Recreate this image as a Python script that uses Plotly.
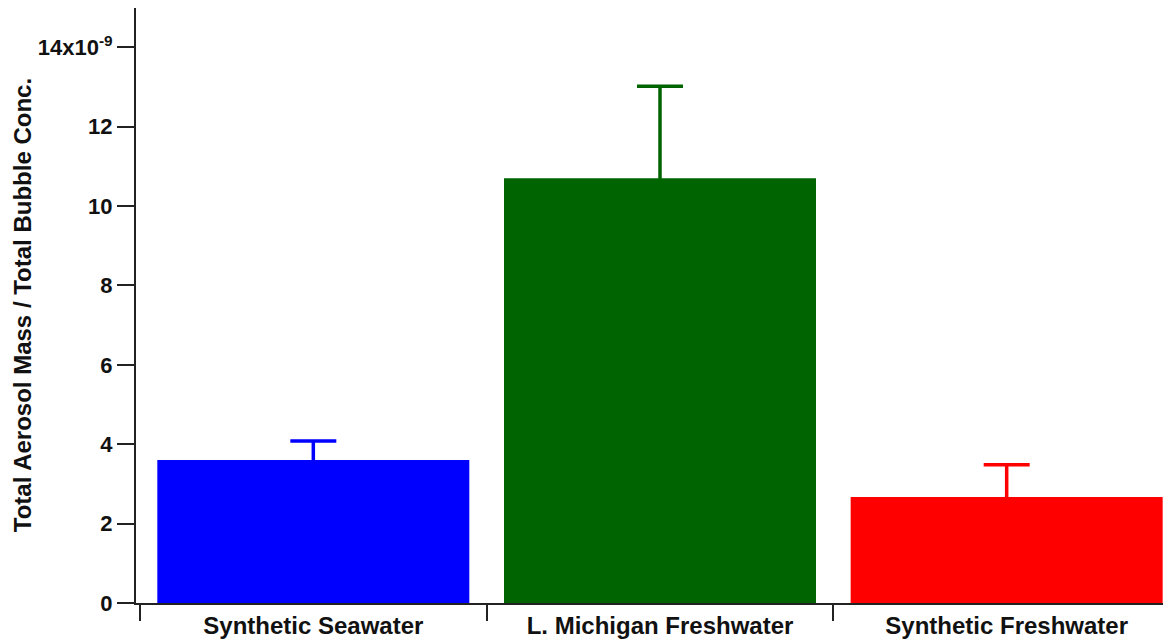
import plotly.graph_objects as go

categories = ["Synthetic Seawater", "L. Michigan Freshwater", "Synthetic Freshwater"]
values = [3.60, 10.70, 2.67]
errors_plus = [0.48, 2.32, 0.81]
bar_colors = ["#0000ff", "#006400", "#ff0000"]
ytick_vals = [0, 2, 4, 6, 8, 10, 12, 14]
ytick_text = ["0", "2", "4", "6", "8", "10", "12", "14x10<sup>-9</sup>"]

FONT = "Arial, 'Liberation Sans', Helvetica, sans-serif"
HIDE = 0.12  # error-bar base sunk into the bar so its lower cap is hidden

fig = go.Figure()
# error bars first (on invisible bars), so the visible bars cover the lower cap
for c, v, e, col in zip(categories, values, errors_plus, bar_colors):
    fig.add_trace(go.Bar(
        x=[c], y=[v - HIDE], width=0.9,
        marker=dict(color="rgba(0,0,0,0)", line=dict(width=0)),
        error_y=dict(type="data", symmetric=False, array=[e + HIDE], arrayminus=[0],
                     color=col, thickness=3.5, width=23),
        showlegend=False, hoverinfo="skip",
    ))
for c, v, col in zip(categories, values, bar_colors):
    fig.add_trace(go.Bar(
        x=[c], y=[v], width=0.9,
        marker=dict(color=col, line=dict(width=0)),
        showlegend=False,
    ))

fig.update_layout(
    width=1163, height=634,
    margin=dict(l=128, r=0, t=0, b=39, autoexpand=False),
    paper_bgcolor="white", plot_bgcolor="white",
    font=dict(family=FONT, size=22, color="#111111"),
    barmode="overlay",
    xaxis=dict(
        type="category", range=[-0.5115, 2.474],
        showline=True, linecolor="#222222", linewidth=2,
        ticks="outside", tickson="boundaries", ticklen=16, tickwidth=2, tickcolor="#222222",
        showgrid=False, zeroline=False,
        tickfont=dict(family=FONT, size=24, color="#111111", weight="bold"),
        automargin=False,
    ),
    yaxis=dict(
        range=[0, 14.99],
        tickvals=ytick_vals, ticktext=ytick_text,
        showline=True, linecolor="#222222", linewidth=2,
        ticks="outside", ticklen=17, tickwidth=2, tickcolor="#222222",
        showgrid=False, zeroline=False,
        tickfont=dict(family=FONT, size=22, color="#111111", weight="bold"),
        automargin=False,
    ),
    annotations=[dict(
        text="Total Aerosol Mass / Total Bubble Conc.",
        xref="paper", yref="paper",
        x=-0.1095, y=0.50, xanchor="center", yanchor="middle",
        textangle=-90, showarrow=False,
        font=dict(family=FONT, size=24, color="#111111", weight="bold"),
    )],
)

fig.write_html("out.html")
